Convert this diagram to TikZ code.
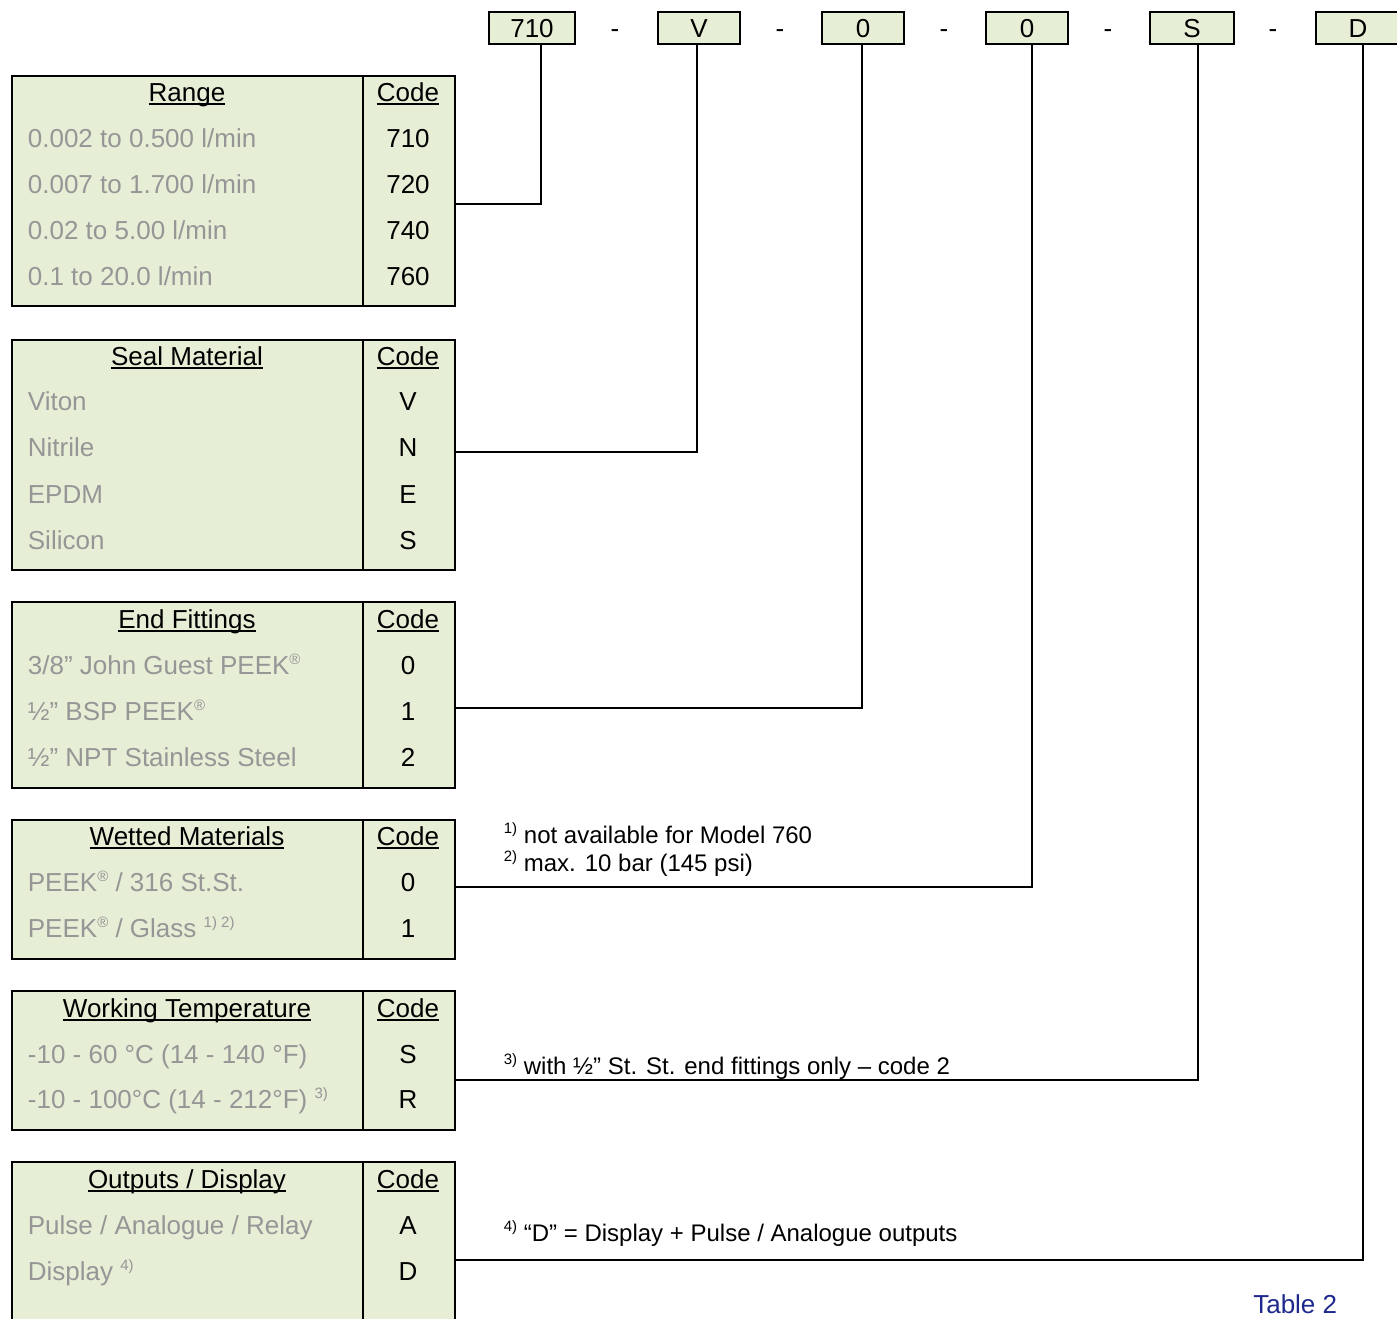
\documentclass[tikz,border=0pt]{standalone}
\usepackage{fontspec}
\setmainfont{Liberation Sans}
\definecolor{tfill}{RGB}{230,238,214}
\definecolor{tgray}{RGB}{150,150,150}
\definecolor{tblue}{RGB}{30,40,140}
\newcommand\fs[1]{\fontsize{#1}{#1}\selectfont}
\newsavebox\ulbox
\newcommand\ulx[1]{\sbox\ulbox{#1}\rlap{\rule[-4pt]{\wd\ulbox}{1.6pt}}\usebox\ulbox}
\newcommand\sups[1]{\raisebox{10pt}{\fontsize{15}{15}\selectfont #1}}
\begin{document}
\begin{tikzpicture}[x=1pt,y=-1pt,line width=1.8pt,
  tbl/.style={draw,fill=tfill,minimum width=443pt,anchor=north west,inner sep=0pt,outer sep=0pt},
  codebox/.style={draw,fill=tfill,minimum height=32pt,inner sep=0pt,outer sep=0pt},
  boxtxt/.style={anchor=base,font=\fs{26},inner sep=0pt},
  hdr/.style={anchor=base,font=\fs{26},inner sep=0pt},
  rowtxt/.style={anchor=base west,font=\fs{26},text=tgray,inner sep=0pt},
  codetxt/.style={anchor=base,font=\fs{26},inner sep=0pt},
  note/.style={anchor=base west,font=\fs{24},inner sep=0pt}]
\useasboundingbox (0,0) rectangle (1397,1318);

% code boxes
\node[codebox,minimum width=86pt] (b1) at (532,28) {};
\node[codebox,minimum width=82pt] (b2) at (699,28) {};
\node[codebox,minimum width=82pt] (b3) at (863,28) {};
\node[codebox,minimum width=82pt] (b4) at (1027,28) {};
\node[codebox,minimum width=84pt] (b5) at (1192,28) {};
\node[codebox,minimum width=84pt] (b6) at (1358,28) {};
\node[boxtxt] (b1t) at (532,37) {710};
\node[boxtxt] (b2t) at (699,37) {V};
\node[boxtxt] (b3t) at (863,37) {0};
\node[boxtxt] (b4t) at (1027,37) {0};
\node[boxtxt] (b5t) at (1192,37) {S};
\node[boxtxt] (b6t) at (1358,37) {D};
\node[boxtxt] (d1) at (615,37) {-};
\node[boxtxt] (d2) at (780,37) {-};
\node[boxtxt] (d3) at (944,37) {-};
\node[boxtxt] (d4) at (1108,37) {-};
\node[boxtxt] (d5) at (1273,37) {-};

% tables
\node[tbl,minimum height=230pt] (t1) at (12,76) {};
\node[tbl,minimum height=230pt] (t2) at (12,340) {};
\node[tbl,minimum height=186pt] (t3) at (12,602) {};
\node[tbl,minimum height=139pt] (t4) at (12,820) {};
\node[tbl,minimum height=139pt] (t5) at (12,991) {};
\node[tbl,minimum height=170pt] (t6) at (12,1162) {};
\foreach \t in {t1,t2,t3,t4,t5,t6}
  \draw ([xshift=351pt]\t.north west) -- ([xshift=351pt]\t.south west);

% table 1
\node[hdr] (t1h) at (187,101) {\ulx{Range}};
\node[hdr] (t1k) at (408,101) {\ulx{Code}};
\node[rowtxt] (t1r1) at (27,147) {0.002 to 0.500 l/min};
\node[rowtxt] (t1r2) at (27,193) {0.007 to 1.700 l/min};
\node[rowtxt] (t1r3) at (27,239) {0.02 to 5.00 l/min};
\node[rowtxt] (t1r4) at (27,285) {0.1 to 20.0 l/min};
\node[codetxt] (t1c1) at (408,147) {710};
\node[codetxt] (t1c2) at (408,193) {720};
\node[codetxt] (t1c3) at (408,239) {740};
\node[codetxt] (t1c4) at (408,285) {760};

% table 2
\node[hdr] (t2h) at (187,365) {\ulx{Seal Material}};
\node[hdr] (t2k) at (408,365) {\ulx{Code}};
\node[rowtxt] (t2r1) at (27,410) {Viton};
\node[rowtxt] (t2r2) at (27,456) {Nitrile};
\node[rowtxt] (t2r3) at (27,503) {EPDM};
\node[rowtxt] (t2r4) at (27,549) {Silicon};
\node[codetxt] (t2c1) at (408,410) {V};
\node[codetxt] (t2c2) at (408,456) {N};
\node[codetxt] (t2c3) at (408,503) {E};
\node[codetxt] (t2c4) at (408,549) {S};

% table 3
\node[hdr] (t3h) at (187,628) {\ulx{End Fittings}};
\node[hdr] (t3k) at (408,628) {\ulx{Code}};
\node[rowtxt] (t3r1) at (27,674) {3/8” John Guest PEEK\sups{®}};
\node[rowtxt] (t3r2) at (27,720) {½” BSP PEEK\sups{®}};
\node[rowtxt] (t3r3) at (27,766) {½” NPT Stainless Steel};
\node[codetxt] (t3c1) at (408,674) {0};
\node[codetxt] (t3c2) at (408,720) {1};
\node[codetxt] (t3c3) at (408,766) {2};

% table 4
\node[hdr] (t4h) at (187,845) {\ulx{Wetted Materials}};
\node[hdr] (t4k) at (408,845) {\ulx{Code}};
\node[rowtxt] (t4r1) at (27,891) {PEEK\sups{®} / 316 St.St.};
\node[rowtxt] (t4r2) at (27,937) {PEEK\sups{®} / Glass \sups{1) 2)}};
\node[codetxt] (t4c1) at (408,891) {0};
\node[codetxt] (t4c2) at (408,937) {1};

% table 5
\node[hdr] (t5h) at (187,1017) {\ulx{Working Temperature}};
\node[hdr] (t5k) at (408,1017) {\ulx{Code}};
\node[rowtxt] (t5r1) at (27,1063) {-10 - 60 °C (14 - 140 °F)};
\node[rowtxt] (t5r2) at (27,1108) {-10 - 100°C (14 - 212°F) \sups{3)}};
\node[codetxt] (t5c1) at (408,1063) {S};
\node[codetxt] (t5c2) at (408,1108) {R};

% table 6
\node[hdr] (t6h) at (187,1188) {\ulx{Outputs / Display}};
\node[hdr] (t6k) at (408,1188) {\ulx{Code}};
\node[rowtxt] (t6r1) at (27,1234) {Pulse / Analogue / Relay};
\node[rowtxt] (t6r2) at (27,1280) {Display \sups{4)}};
\node[codetxt] (t6c1) at (408,1234) {A};
\node[codetxt] (t6c2) at (408,1280) {D};

% connectors
\coordinate (k1) at (541,204);
\coordinate (k2) at (697,452);
\coordinate (k3) at (862,708);
\coordinate (k4) at (1032,887);
\coordinate (k5) at (1198,1080);
\coordinate (k6) at (1363,1260);
\draw (b1.south -| k1) |- (t1.east |- k1);
\draw (b2.south -| k2) |- (t2.east |- k2);
\draw (b3.south -| k3) |- (t3.east |- k3);
\draw (b4.south -| k4) |- (t4.east |- k4);
\draw (b5.south -| k5) |- (t5.east |- k5);
\draw (b6.south -| k6) |- (t6.east |- k6);

% notes
\node[note] (n1) at (503,843) {\sups{1)} not available for Model 760};
\node[note] (n2) at (503,871) {\sups{2)} max. 10 bar (145 psi)};
\node[note] (n3) at (503,1074) {\sups{3)} with ½” St. St. end fittings only – code 2};
\node[note] (n4) at (503,1241) {\sups{4)} “D” = Display + Pulse / Analogue outputs};
\node[anchor=base east,font=\fs{26},text=tblue,inner sep=0pt] (cap) at (1338,1313) {Table 2};
\end{tikzpicture}
\end{document}
